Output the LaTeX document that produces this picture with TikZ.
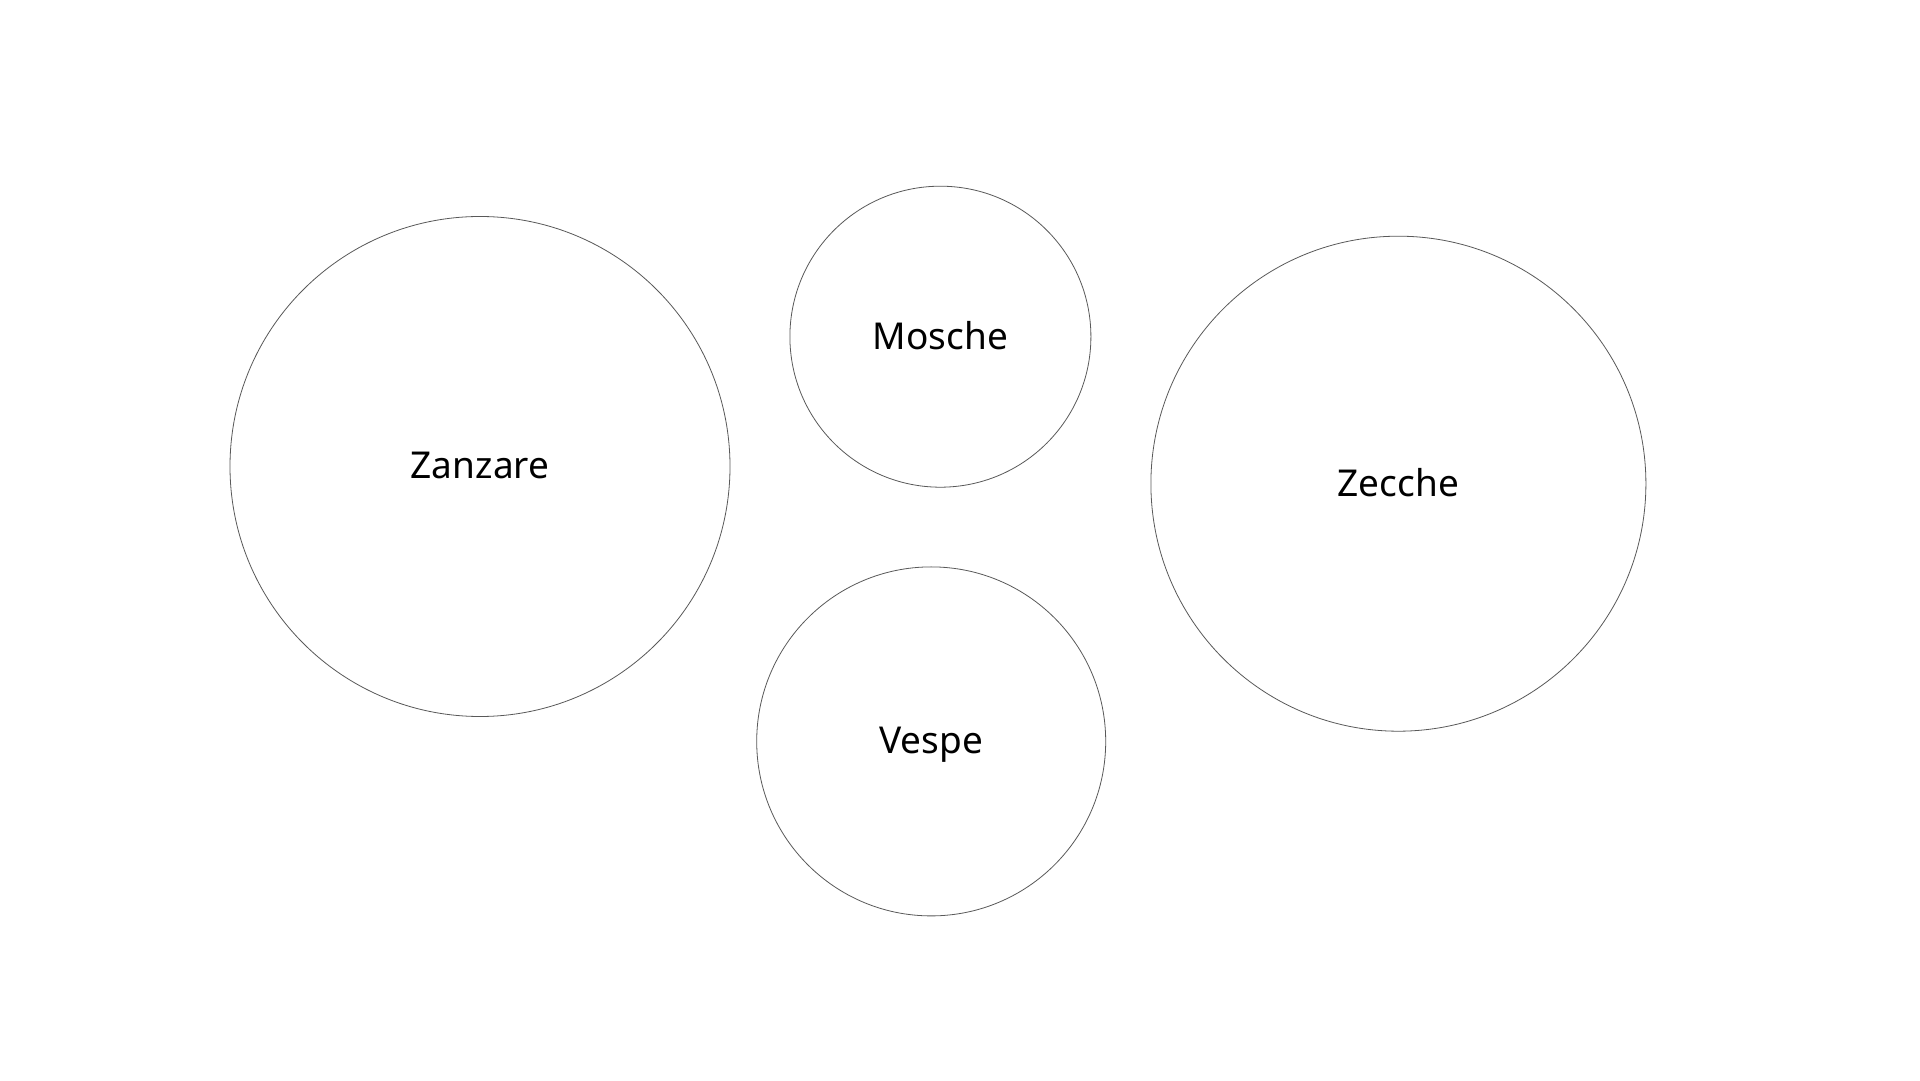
\documentclass[tikz,border=0pt]{standalone}
\usepackage{fontspec}
\setmainfont{Noto Sans}
\begin{document}
\begin{tikzpicture}[x=1pt,y=1pt,
  bubble/.style={circle,draw=black!65,line width=0.8pt,inner sep=0pt,font=\fontsize{37}{42}\selectfont,text=black,text depth=2pt}]
\useasboundingbox[fill=white] (0,0) rectangle (1920,1080);
\node[bubble,minimum size=500pt] (zanzare) at (480,613.5) {Zanzare};
\node[bubble,minimum size=301pt] (mosche) at (940.4,743.3) {Mosche};
\node[bubble,minimum size=495pt] (zecche) at (1398.4,596.3) {Zecche};
\node[bubble,minimum size=349pt] (vespe) at (931.2,338.6) {Vespe};
\end{tikzpicture}
\end{document}
